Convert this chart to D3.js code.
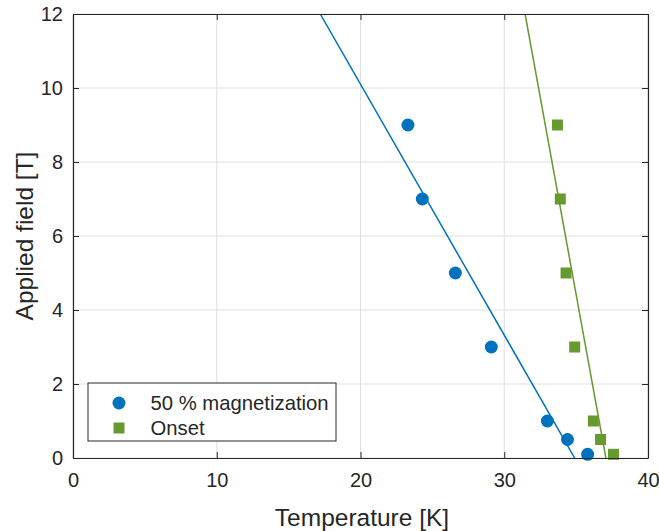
<!DOCTYPE html>
<html lang="en">
<head>
    <meta charset="UTF-8">
    <title>Applied field vs temperature</title>
    <style>
        body { margin: 0; background: #fff; }
        text { font-family: Arial, "Liberation Sans", sans-serif; fill: #262626; }
    </style>
</head>
<body>
    <script src="https://d3js.org/d3.v7.min.js"></script>
    <div id="chart"></div>
    <script>
        // data
        const fieldLevels = [9, 7, 5, 3, 1, 0.5, 0.1];
        const tempHalf = [23.3, 24.3, 26.6, 29.1, 33.0, 34.4, 35.8];
        const tempOnset = [33.7, 33.9, 34.3, 34.9, 36.2, 36.7, 37.6];
        // linear fit lines (T, B) end points
        const fitHalf = [[17.2, 12], [34.9, 0]];
        const fitOnset = [[31.45, 12], [37.07, 0]];
        const xTicks = [0, 10, 20, 30, 40];
        const yTicks = [0, 2, 4, 6, 8, 10, 12];

        const margin = { top: 14, right: 11, bottom: 73, left: 73 },
            W = 659, H = 531,
            width = W - margin.left - margin.right,
            height = H - margin.top - margin.bottom;

        const blue = "#0072BD", green = "#66992E";

        const svg = d3.select("#chart").append("svg")
            .attr("width", W).attr("height", H);
        const g = svg.append("g")
            .attr("transform", `translate(${margin.left},${margin.top})`);

        const x = d3.scaleLinear().domain([0, 40]).range([0, width]);
        const y = d3.scaleLinear().domain([0, 12]).range([height, 0]);

        g.append("clipPath").attr("id", "clip")
            .append("rect").attr("width", width).attr("height", height);

        // grid
        g.append("g").selectAll("line").data(xTicks).join("line")
            .attr("x1", d => x(d)).attr("x2", d => x(d))
            .attr("y1", 0).attr("y2", height)
            .attr("stroke", "#dfdfdf").attr("stroke-width", 1);
        g.append("g").selectAll("line").data(yTicks).join("line")
            .attr("x1", 0).attr("x2", width)
            .attr("y1", d => y(d)).attr("y2", d => y(d))
            .attr("stroke", "#dfdfdf").attr("stroke-width", 1);

        // fit lines
        const line = d3.line().x(d => x(d[0])).y(d => y(d[1]));
        const plot = g.append("g").attr("clip-path", "url(#clip)");
        plot.append("path").datum(fitHalf).attr("d", line)
            .attr("fill", "none").attr("stroke", blue).attr("stroke-width", 1.5);
        plot.append("path").datum(fitOnset).attr("d", line)
            .attr("fill", "none").attr("stroke", green).attr("stroke-width", 1.5);

        // markers
        g.append("g").selectAll("circle").data(fieldLevels).join("circle")
            .attr("cx", (d, i) => x(tempHalf[i])).attr("cy", d => y(d))
            .attr("r", 6.5).attr("fill", blue);
        const sq = 11;
        g.append("g").selectAll("rect").data(fieldLevels).join("rect")
            .attr("x", (d, i) => x(tempOnset[i]) - sq / 2).attr("y", d => y(d) - sq / 2)
            .attr("width", sq).attr("height", sq).attr("fill", green);

        // axes (box with inward ticks)
        const axisStyle = sel => {
            sel.select(".domain").attr("stroke", "#262626").attr("stroke-width", 1.2);
            sel.selectAll(".tick line").attr("stroke", "#262626");
            sel.selectAll("text").style("font-size", "20px").attr("fill", "#262626");
        };
        g.append("g").attr("transform", `translate(0,${height})`)
            .call(d3.axisBottom(x).tickValues(xTicks).tickSizeInner(-6).tickSizeOuter(0).tickPadding(15))
            .call(axisStyle);
        g.append("g")
            .call(d3.axisLeft(y).tickValues(yTicks).tickSizeInner(-6).tickSizeOuter(0).tickPadding(10))
            .call(axisStyle);
        g.append("g")
            .call(d3.axisTop(x).tickValues(xTicks).tickSizeInner(-6).tickSizeOuter(0).tickFormat(""))
            .call(axisStyle);
        g.append("g").attr("transform", `translate(${width},0)`)
            .call(d3.axisRight(y).tickValues(yTicks).tickSizeInner(-6).tickSizeOuter(0).tickFormat(""))
            .call(axisStyle);

        // axis labels
        svg.append("text")
            .attr("x", 362).attr("y", 526)
            .attr("text-anchor", "middle").style("font-size", "24.5px")
            .text("Temperature [K]");
        svg.append("text")
            .attr("transform", `translate(33,${margin.top + height / 2}) rotate(-90)`)
            .attr("text-anchor", "middle").style("font-size", "24.5px")
            .text("Applied field [T]");

        // legend
        const leg = svg.append("g").attr("transform", "translate(88,383)");
        leg.append("rect").attr("width", 248).attr("height", 58)
            .attr("fill", "#fff").attr("stroke", "#262626").attr("stroke-width", 1);
        leg.append("circle").attr("cx", 31).attr("cy", 20).attr("r", 6.5).attr("fill", blue);
        leg.append("rect").attr("x", 25.5).attr("y", 39.5).attr("width", sq).attr("height", sq).attr("fill", green);
        leg.append("text").attr("x", 62.5).attr("y", 27).style("font-size", "20.3px").text("50 % magnetization");
        leg.append("text").attr("x", 62.5).attr("y", 51.5).style("font-size", "20.3px").text("Onset");
    </script>
</body>
</html>
